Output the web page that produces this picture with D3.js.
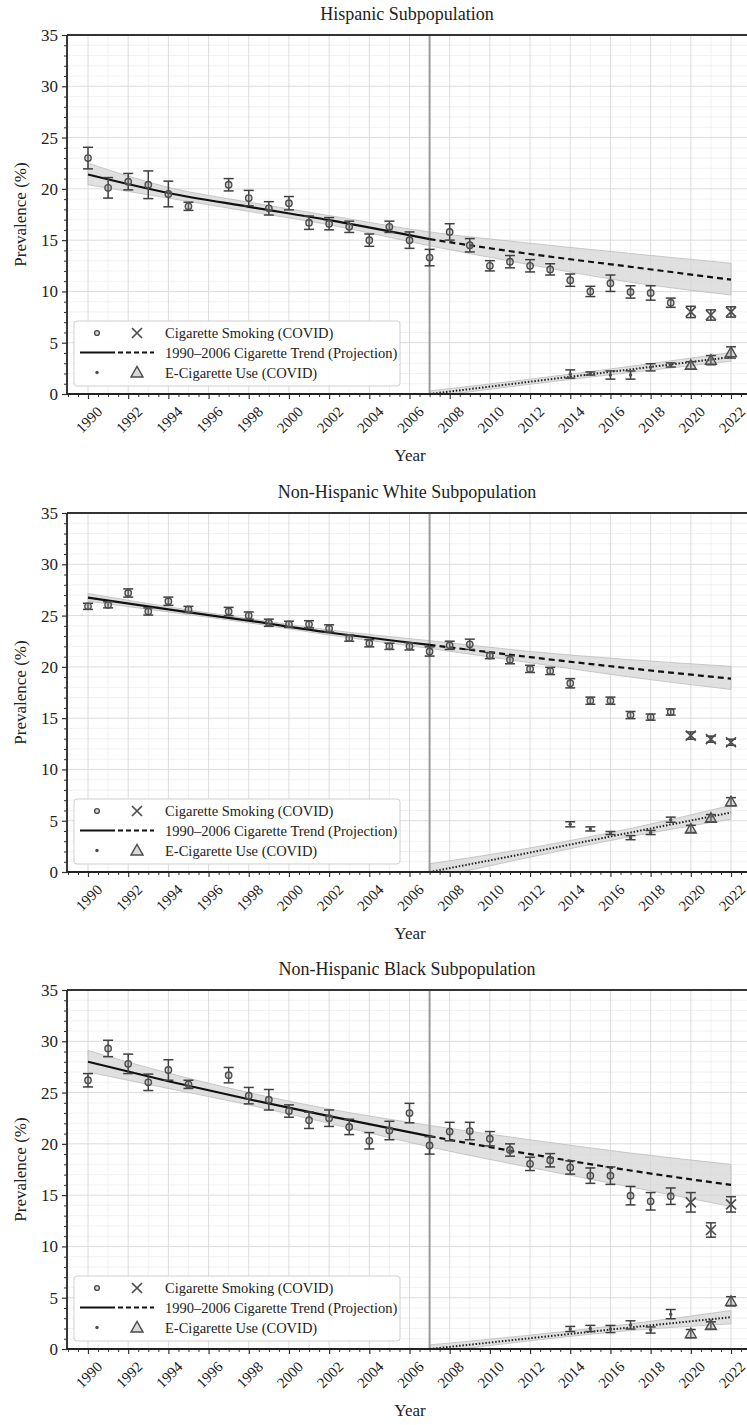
<!DOCTYPE html>
<html><head><meta charset="utf-8">
<script src="https://cdn.jsdelivr.net/npm/d3@7"></script>
<style>
body{margin:0;background:#fff}
svg{display:block}
text{font-family:"Liberation Serif","Times New Roman",serif;fill:#222}
</style>
</head><body>
<svg id="chart" width="747" height="1425"></svg>
<script>
// ---------------- DATA ----------------
const cigYears = [1990,1991,1992,1993,1994,1995,1997,1998,1999,2000,2001,2002,2003,2004,2005,2006,2007,2008,2009,2010,2011,2012,2013,2014,2015,2016,2017,2018,2019,2020,2021,2022];
const ecigYears = [2014,2015,2016,2017,2018,2019,2020,2021,2022];
const trendYears = [1990,1994,1998,2002,2007,2012,2017,2022];
const ecigTrendYears = [2007,2012,2017,2022];
const yTickValues = [0,5,10,15,20,25,30,35];
const xTickLabels = [1990,1992,1994,1996,1998,2000,2002,2004,2006,2008,2010,2012,2014,2016,2018,2020,2022];
const covidYear = 2020;
const splitYear = 2007;

const titles = ["Hispanic Subpopulation","Non-Hispanic White Subpopulation","Non-Hispanic Black Subpopulation"];
const legendLabels = ["Cigarette Smoking (COVID)","1990\u20132006 Cigarette Trend (Projection)","E-Cigarette Use (COVID)"];

// Hispanic
const hispCig    = [23.0,20.1,20.7,20.4,19.5,18.3,20.4,19.1,18.1,18.6,16.7,16.6,16.3,15.0,16.3,15.0,13.3,15.8,14.5,12.5,12.9,12.5,12.15,11.1,10.0,10.8,9.95,9.85,8.9,8.0,7.7,8.0];
const hispCigErr = [1.05,1.0,0.8,1.35,1.25,0.4,0.6,0.75,0.65,0.65,0.65,0.6,0.55,0.6,0.55,0.8,0.8,0.8,0.65,0.5,0.6,0.6,0.55,0.6,0.5,0.8,0.6,0.7,0.45,0.55,0.5,0.5];
const hispEcig    = [1.95,2.0,1.85,1.85,2.6,2.83,2.8,3.3,4.05];
const hispEcigErr = [0.4,0.15,0.4,0.4,0.35,0.2,0.35,0.45,0.55];
const hispTrend   = [21.4,19.6,18.25,16.95,15.1,13.65,12.4,11.15];
const hispTrendLo = [20.4,19.1,17.8,16.5,14.45,12.6,10.9,9.65];
const hispTrendHi = [22.5,20.15,18.7,17.4,15.8,14.7,13.7,12.75];
const hispEcigTrend   = [0.0,1.2,2.4,3.6];
const hispEcigTrendLo = [-0.3,0.95,2.1,3.2];
const hispEcigTrendHi = [0.3,1.45,2.7,4.05];

// Non-Hispanic White
const whiteCig    = [25.9,26.05,27.2,25.4,26.4,25.6,25.4,25.0,24.3,24.15,24.15,23.75,22.8,22.3,22.0,22.0,21.5,22.1,22.2,21.1,20.7,19.8,19.6,18.4,16.7,16.7,15.3,15.1,15.6,13.3,12.95,12.65];
const whiteCigErr = [0.3,0.3,0.4,0.35,0.4,0.3,0.4,0.35,0.35,0.3,0.35,0.35,0.3,0.35,0.3,0.35,0.45,0.4,0.5,0.3,0.4,0.35,0.35,0.45,0.35,0.35,0.35,0.3,0.3,0.35,0.3,0.3];
const whiteEcig    = [4.65,4.2,3.8,3.35,3.85,5.1,4.2,5.25,6.85];
const whiteEcigErr = [0.25,0.2,0.15,0.2,0.2,0.25,0.35,0.35,0.4];
const whiteTrend   = [26.75,25.6,24.5,23.35,22.15,20.95,19.85,18.85];
const whiteTrendLo = [26.4,25.35,24.3,23.1,21.8,20.4,19.0,17.8];
const whiteTrendHi = [27.15,25.85,24.7,23.6,22.55,21.5,20.7,20.05];
const whiteEcigTrend   = [0.0,1.9,3.85,5.8];
const whiteEcigTrendLo = [-0.7,1.45,3.45,5.15];
const whiteEcigTrendHi = [0.8,2.35,4.25,6.5];

// Non-Hispanic Black
const blackCig    = [26.2,29.3,27.8,26.0,27.2,25.8,26.7,24.7,24.3,23.2,22.3,22.5,21.65,20.3,21.3,23.0,19.85,21.2,21.25,20.5,19.4,18.05,18.4,17.7,16.9,16.9,14.95,14.4,14.9,14.3,11.6,14.1];
const blackCigErr = [0.65,0.8,0.95,0.8,1.0,0.4,0.75,0.8,1.0,0.6,0.8,0.8,0.75,0.8,0.9,0.95,0.85,0.9,0.85,0.7,0.6,0.65,0.65,0.65,0.75,0.85,0.9,0.85,0.8,0.95,0.7,0.75];
const blackEcig    = [1.95,2.0,1.95,2.35,1.85,3.4,1.5,2.3,4.65];
const blackEcigErr = [0.25,0.3,0.35,0.4,0.3,0.45,0.4,0.35,0.45];
const blackTrend   = [28.0,26.1,24.35,22.7,20.75,19.0,17.4,16.0];
const blackTrendLo = [27.0,25.4,23.8,22.0,19.7,17.7,15.8,13.9];
const blackTrendHi = [29.1,26.9,25.0,23.4,21.8,20.4,19.1,18.0];
const blackEcigTrend   = [0.0,1.05,2.1,3.1];
const blackEcigTrendLo = [-0.4,0.8,1.8,2.45];
const blackEcigTrendHi = [0.4,1.35,2.45,3.75];

// ---------------- LAYOUT ----------------
const plotLeft = 67, plotRight = 747, plotH = 359;
const panelTops = [35, 513, 990];

const panels = [
  {title: titles[0], top: panelTops[0], cig: hispCig, cigErr: hispCigErr, ecig: hispEcig, ecigErr: hispEcigErr,
   trend: hispTrend, lo: hispTrendLo, hi: hispTrendHi, et: hispEcigTrend, elo: hispEcigTrendLo, ehi: hispEcigTrendHi},
  {title: titles[1], top: panelTops[1], cig: whiteCig, cigErr: whiteCigErr, ecig: whiteEcig, ecigErr: whiteEcigErr,
   trend: whiteTrend, lo: whiteTrendLo, hi: whiteTrendHi, et: whiteEcigTrend, elo: whiteEcigTrendLo, ehi: whiteEcigTrendHi},
  {title: titles[2], top: panelTops[2], cig: blackCig, cigErr: blackCigErr, ecig: blackEcig, ecigErr: blackEcigErr,
   trend: blackTrend, lo: blackTrendLo, hi: blackTrendHi, et: blackEcigTrend, elo: blackEcigTrendLo, ehi: blackEcigTrendHi}
];

const x = d3.scaleLinear().domain([1990, 2022]).range([88, 731]);
const y = d3.scaleLinear().domain([0, 35]).range([plotH, 0]);

const svg = d3.select("#chart");
const markColor = "#4d4d4d";
const errColor = "#3f3f3f";

function drawMarker(sel, type, cx, cy, s = 1) {
  if (type === "circle") {
    sel.append("circle").attr("cx", cx).attr("cy", cy).attr("r", 3.2 * s)
      .attr("fill", "rgba(150,150,150,0.35)").attr("stroke", markColor).attr("stroke-width", 1.4);
  } else if (type === "x") {
    const r = 5 * s;
    sel.append("path").attr("d", `M${cx - r},${cy - r}L${cx + r},${cy + r}M${cx - r},${cy + r}L${cx + r},${cy - r}`)
      .attr("stroke", markColor).attr("stroke-width", 1.7).attr("fill", "none");
  } else if (type === "dot") {
    sel.append("circle").attr("cx", cx).attr("cy", cy).attr("r", 1.7 * s).attr("fill", markColor);
  } else if (type === "triangle") {
    const r = 5.5 * s;
    sel.append("path").attr("d", `M${cx},${cy - r}L${cx + r},${cy + r * 0.75}L${cx - r},${cy + r * 0.75}Z`)
      .attr("stroke", markColor).attr("stroke-width", 1.4).attr("fill", "rgba(150,150,150,0.35)");
  }
}

panels.forEach((p, pi) => {
  const g = svg.append("g").attr("transform", `translate(0,${p.top})`);
  const clipId = "clip" + pi;
  g.append("clipPath").attr("id", clipId).append("rect")
    .attr("x", plotLeft).attr("y", 0).attr("width", plotRight - plotLeft).attr("height", plotH);

  // grid
  const grid = g.append("g");
  const xMin = x.invert(plotLeft), xMax = x.invert(plotRight);
  const minorXs = d3.range(Math.ceil(xMin), Math.floor(xMax) + 1).filter(v => v % 2 !== 0);
  const minorYs = d3.range(1, 35).filter(v => v % 5 !== 0);
  grid.selectAll(".mx").data(minorXs).join("line")
    .attr("x1", d => x(d)).attr("x2", d => x(d)).attr("y1", 0).attr("y2", plotH)
    .attr("stroke", "#efefef").attr("stroke-width", 0.9);
  grid.selectAll(".my").data(minorYs).join("line")
    .attr("x1", plotLeft).attr("x2", plotRight).attr("y1", d => y(d)).attr("y2", d => y(d))
    .attr("stroke", "#f1f1f1").attr("stroke-width", 0.9);
  grid.selectAll(".Mx").data(xTickLabels).join("line")
    .attr("x1", d => x(d)).attr("x2", d => x(d)).attr("y1", 0).attr("y2", plotH)
    .attr("stroke", "#dcdcdc").attr("stroke-width", 1);
  grid.selectAll(".My").data(yTickValues.filter(v => v > 0 && v < 35)).join("line")
    .attr("x1", plotLeft).attr("x2", plotRight).attr("y1", d => y(d)).attr("y2", d => y(d))
    .attr("stroke", "#dcdcdc").attr("stroke-width", 1);

  const plot = g.append("g").attr("clip-path", `url(#${clipId})`);

  // bands
  const trendPts = trendYears.map((yr, i) => ({year: yr, v: p.trend[i], lo: p.lo[i], hi: p.hi[i]}));
  const ePts = ecigTrendYears.map((yr, i) => ({year: yr, v: p.et[i], lo: p.elo[i], hi: p.ehi[i]}));
  const area = d3.area().x(d => x(d.year)).y0(d => y(d.lo)).y1(d => y(d.hi)).curve(d3.curveMonotoneX);
  plot.append("path").datum(trendPts).attr("d", area)
    .attr("fill", "#d6d6d6").attr("fill-opacity", 0.75).attr("stroke", "#bcbcbc").attr("stroke-width", 0.8);
  plot.append("path").datum(ePts).attr("d", area)
    .attr("fill", "#d6d6d6").attr("fill-opacity", 0.75).attr("stroke", "#bcbcbc").attr("stroke-width", 0.8);

  // vertical split line
  plot.append("line").attr("x1", x(splitYear)).attr("x2", x(splitYear)).attr("y1", 0).attr("y2", plotH)
    .attr("stroke", "#9c9c9c").attr("stroke-width", 2);

  // trend lines
  const line = d3.line().x(d => x(d.year)).y(d => y(d.v)).curve(d3.curveMonotoneX);
  plot.append("path").datum(trendPts.filter(d => d.year <= splitYear)).attr("d", line)
    .attr("fill", "none").attr("stroke", "#111").attr("stroke-width", 2.2);
  plot.append("path").datum(trendPts.filter(d => d.year >= splitYear)).attr("d", line)
    .attr("fill", "none").attr("stroke", "#111").attr("stroke-width", 2.2).attr("stroke-dasharray", "6,4");
  plot.append("path").datum(ePts).attr("d", line)
    .attr("fill", "none").attr("stroke", "#222").attr("stroke-width", 2).attr("stroke-dasharray", "1.5,1.8");

  // error bars + markers
  const drawSeries = (years, vals, errs, preMarker, postMarker) => {
    const data = years.map((yr, i) => ({year: yr, v: vals[i], e: errs[i]}));
    const eg = plot.append("g");
    data.forEach(d => {
      const cx = x(d.year);
      const yt = y(d.v + d.e), yb = y(d.v - d.e), cy = y(d.v);
      eg.append("line").attr("x1", cx).attr("x2", cx).attr("y1", yt).attr("y2", yb)
        .attr("stroke", errColor).attr("stroke-width", 1.5);
      [yt, yb].forEach(yy => eg.append("line").attr("x1", cx - 5).attr("x2", cx + 5).attr("y1", yy).attr("y2", yy)
        .attr("stroke", errColor).attr("stroke-width", 1.5));
      const m = d.year >= covidYear ? postMarker : preMarker;
      drawMarker(eg, m, cx, cy);
    });
  };
  drawSeries(cigYears, p.cig, p.cigErr, "circle", "x");
  drawSeries(ecigYears, p.ecig, p.ecigErr, "dot", "triangle");

  // axes
  const yAxis = g.append("g").attr("transform", `translate(${plotLeft},0)`)
    .call(d3.axisLeft(y).tickValues(yTickValues).tickSize(5).tickPadding(4).tickFormat(d3.format("d")));
  yAxis.select(".domain").remove();
  yAxis.selectAll("text").attr("font-size", 17).attr("font-family", "Liberation Serif").attr("fill", "#222");
  yAxis.selectAll(".tick line").attr("stroke", "#333").attr("stroke-width", 1.2);
  const yMinor = g.append("g").attr("transform", `translate(${plotLeft},0)`)
    .call(d3.axisLeft(y).tickValues(minorYs).tickSize(3).tickFormat(""));
  yMinor.select(".domain").remove();
  yMinor.selectAll(".tick line").attr("stroke", "#333").attr("stroke-width", 1);

  const xAxis = g.append("g").attr("transform", `translate(0,${plotH})`)
    .call(d3.axisBottom(x).tickValues(xTickLabels).tickSize(5).tickFormat(d3.format("d")));
  xAxis.select(".domain").remove();
  xAxis.selectAll(".tick line").attr("stroke", "#333").attr("stroke-width", 1.2);
  xAxis.selectAll("text").attr("font-size", 15).attr("font-family", "Liberation Serif").attr("fill", "#222")
    .attr("text-anchor", "end").attr("x", 0).attr("y", 0).attr("dy", "0.35em")
    .attr("transform", "translate(11,15) rotate(-45)");
  const halfYears = d3.range(Math.ceil(xMin * 2) / 2, xMax, 0.5).filter(v => !xTickLabels.includes(v));
  const xMinor = g.append("g").attr("transform", `translate(0,${plotH})`)
    .call(d3.axisBottom(x).tickValues(halfYears).tickSize(3).tickFormat(""));
  xMinor.select(".domain").remove();
  xMinor.selectAll(".tick line").attr("stroke", "#333").attr("stroke-width", 1);

  // spines
  g.append("line").attr("x1", plotLeft).attr("x2", plotRight).attr("y1", plotH).attr("y2", plotH)
    .attr("stroke", "#222").attr("stroke-width", 1.8);
  g.append("line").attr("x1", plotLeft).attr("x2", plotRight).attr("y1", 0).attr("y2", 0)
    .attr("stroke", "#333").attr("stroke-width", 2);
  g.append("line").attr("x1", plotLeft).attr("x2", plotLeft).attr("y1", 0).attr("y2", plotH)
    .attr("stroke", "#222").attr("stroke-width", 1.8);

  // titles
  g.append("text").attr("x", (plotLeft + plotRight) / 2).attr("y", -15).attr("text-anchor", "middle")
    .attr("font-size", 18).text(p.title);
  g.append("text").attr("transform", `translate(26,${plotH / 2}) rotate(-90)`).attr("text-anchor", "middle")
    .attr("font-size", 17).text("Prevalence (%)");
  g.append("text").attr("x", (plotLeft + plotRight) / 2 + 3).attr("y", plotH + 67).attr("text-anchor", "middle")
    .attr("font-size", 17).text("Year");

  // legend
  const lx = plotLeft + 7, ly = plotH - 73;
  const lg = g.append("g").attr("transform", `translate(${lx},${ly})`);
  lg.append("rect").attr("x", 0).attr("y", 0).attr("width", 326).attr("height", 65).attr("rx", 3)
    .attr("fill", "#fff").attr("fill-opacity", 0.9).attr("stroke", "#cfcfcf").attr("stroke-width", 1);
  const rows = [12, 31.5, 51.5];
  drawMarker(lg, "circle", 23, rows[0], 0.75);
  drawMarker(lg, "x", 63, rows[0], 1.0);
  lg.append("line").attr("x1", 6).attr("x2", 41).attr("y1", rows[1]).attr("y2", rows[1])
    .attr("stroke", "#111").attr("stroke-width", 2.2);
  lg.append("line").attr("x1", 44).attr("x2", 80).attr("y1", rows[1]).attr("y2", rows[1])
    .attr("stroke", "#111").attr("stroke-width", 2.2).attr("stroke-dasharray", "5,3");
  drawMarker(lg, "dot", 23, rows[2], 1);
  drawMarker(lg, "triangle", 63, rows[2], 1.1);
  legendLabels.forEach((t, i) => lg.append("text").attr("x", 91).attr("y", rows[i]).attr("dy", "0.35em")
    .attr("font-size", 14.5).attr("fill", "#333").text(t));
});
</script>
</body></html>
